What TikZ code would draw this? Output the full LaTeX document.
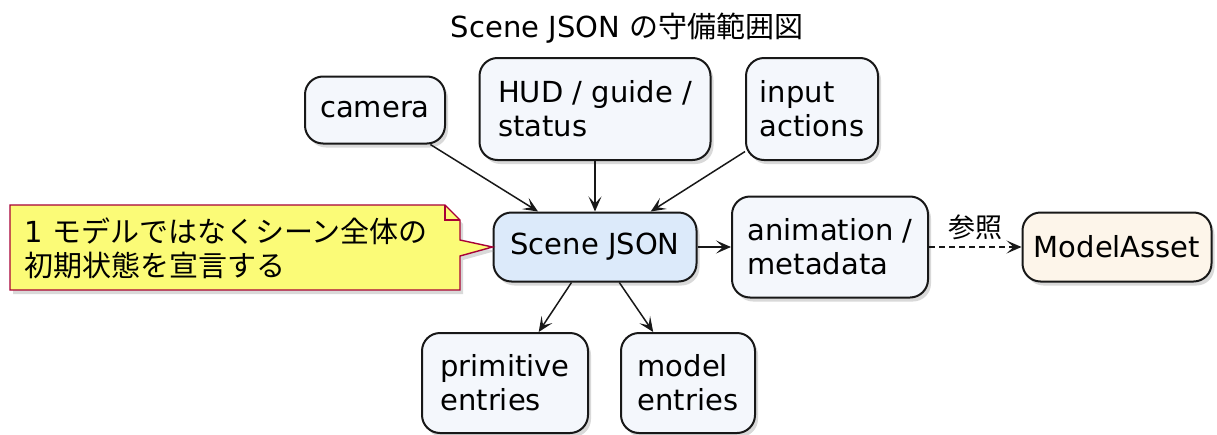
\documentclass[tikz,border=0pt]{standalone}
\usepackage{fontspec}
\setmainfont{DejaVu Sans}
\newfontfamily\jp{Noto Sans CJK JP}
\usetikzlibrary{arrows.meta,shadows}

\definecolor{boxfill}{HTML}{F4F7FC}
\definecolor{mainfill}{HTML}{DCEAFA}
\definecolor{assetfill}{HTML}{FDF5EA}
\definecolor{notefill}{HTML}{FBFB77}
\definecolor{noteline}{HTML}{A80036}
\definecolor{ink}{HTML}{181818}

\begin{document}
\begin{tikzpicture}[x=1pt,y=-1pt,
  font=\fontsize{29}{34}\selectfont,
  box/.style={draw=ink, line width=2pt, rounded corners=18pt, fill=boxfill,
    align=left, inner sep=0pt,
    drop shadow={shadow xshift=3pt,shadow yshift=-4pt,opacity=0.3}},
  link/.style={draw=ink, line width=1.5pt,
    -{Stealth[length=15pt,width=13pt,inset=7pt]}},
]
\useasboundingbox (0,0) rectangle (1217,434);

% title
\node (title) at (627,28) {Scene JSON {\jp の守備範囲図}};

% upper row
\node[box, minimum width=140pt, minimum height=67pt] (camera) at (375,110) {camera};
\node[box, minimum width=231pt, minimum height=102pt] (hud) at (595,109) {HUD / guide /\\status};
\node[box, minimum width=132pt, minimum height=102pt] (input) at (812,109) {input\\actions};

% middle row
\node[box, fill=mainfill, minimum width=203pt, minimum height=69pt] (scene) at (595,247) {Scene JSON};
\node[box, minimum width=196pt, minimum height=101pt] (anim) at (830,247) {animation /\\metadata};
\node[box, fill=assetfill, minimum width=189pt, minimum height=69pt] (asset) at (1117,247) {ModelAsset};

% lower row
\node[box, minimum width=166pt, minimum height=100pt] (prim) at (505,383) {primitive\\entries};
\node[box, minimum width=134pt, minimum height=100pt] (model) at (688,383) {model\\entries};

% note attached to the scene node
\filldraw[fill=notefill, draw=noteline, line width=1.4pt, line join=miter,
  drop shadow={shadow xshift=3pt,shadow yshift=-4pt,opacity=0.3}]
  (10,205) -- (445,205) -- (460,220) -- (460,240) -- (scene.west)
  -- (460,256) -- (460,290) -- (10,290) -- cycle;
\draw[draw=noteline, line width=1.4pt] (445,205) -- (445,220) -- (460,220);
\node[anchor=west, align=left] (note) at (21,248)
  {1 {\jp モデルではなくシーン全体の}\\{\jp 初期状態を宣言する}};

% connectors
\draw[link] (camera) -- (scene);
\draw[link] (hud) -- (scene);
\draw[link] (input) -- (scene);
\draw[link] (scene) -- (anim);
\draw[link, dash pattern=on 6pt off 4pt] (anim) -- node[above=3pt, font=\jp\fontsize{27}{30}\selectfont] (ref) {参照} (asset);
\draw[link] (scene) -- (prim);
\draw[link] (scene) -- (model);
\end{tikzpicture}
\end{document}
